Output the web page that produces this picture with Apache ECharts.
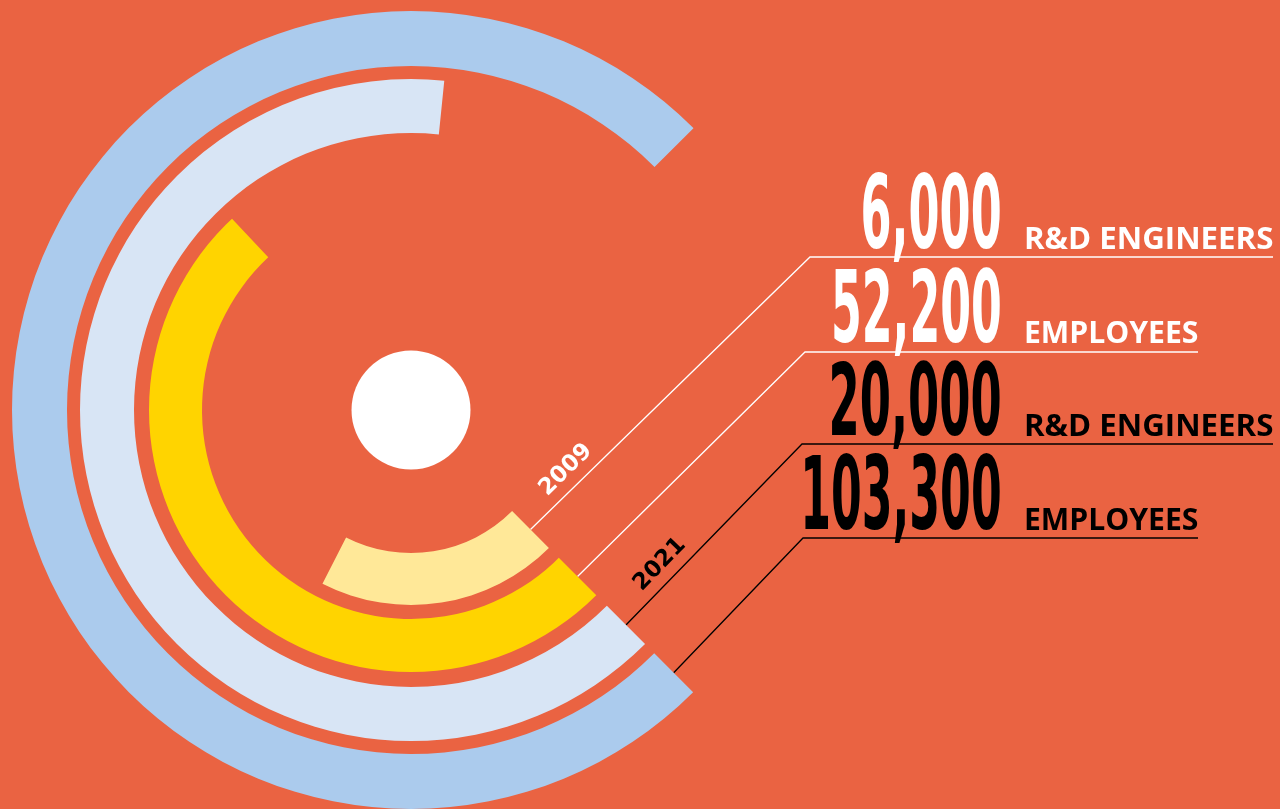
<!DOCTYPE html>
<html>
<head>
<meta charset="utf-8">
<script src="https://cdn.jsdelivr.net/npm/echarts@6/dist/echarts.min.js"></script>
<style>
  html, body { margin: 0; padding: 0; background: #EA6342; }
  #chart { width: 1280px; height: 809px; }
</style>
</head>
<body>
<div id="chart"></div>
<script>
// Workforce figures, one ring each, listed from the innermost ring outwards
const ringYears = ['2009', '2009', '2021', '2021'];
const ringMetrics = ['R&D ENGINEERS', 'EMPLOYEES', 'R&D ENGINEERS', 'EMPLOYEES'];
const ringValues = [6000, 52200, 20000, 103300];

// ---- layout & styling ----
const CX = 411, CY = 410;
const START_ANGLE = -45;
const ringRadii = [[143, 195], [209, 262], [277, 331], [344, 399]];
const ringColors = ['#FFE898', '#FFD400', '#D8E5F5', '#ABCBED'];
// each ring has its own angular scale (full turn = axis max)
const ringAxisMax = [30000, 103300, 31200, 137700];
const yearColors = { '2009': '#FFFFFF', '2021': '#000000' };

// right-hand figure rows (same order as the rings)
const rowBoxes = [
  { numLeft: 863, numTop: 172, base: 249, lineY: 257, kneeX: 810, labelRight: 1273 },
  { numLeft: 834, numTop: 267, base: 343, lineY: 352, kneeX: 805, labelRight: 1198 },
  { numLeft: 832, numTop: 360, base: 436, lineY: 444, kneeX: 802, labelRight: 1273 },
  { numLeft: 805, numTop: 453, base: 530, lineY: 538, kneeX: 803, labelRight: 1198 }
];
const NUM_RIGHT = 1000;
const LABEL_LEFT = 1026;
const LABEL_CAP = 21.5;

const numFamily = '"Liberation Sans Narrow", "DejaVu Sans Condensed", "DejaVu Sans", sans-serif';
const labelFamily = '"Open Sans", "Noto Sans", sans-serif';
const yearFamily = '"DejaVu Sans", "Open Sans", sans-serif';

// text measuring helpers (canvas metrics, 'middle' baseline like zrender uses)
const mctx = document.createElement('canvas').getContext('2d');
function metrics(font, text) {
  mctx.font = font;
  mctx.textBaseline = 'middle';
  mctx.textAlign = 'left';
  return mctx.measureText(text);
}
// fit a text so its ink spans [left,right] horizontally and glyph height of refGlyph spans [top,bottom]
function fittedText(text, family, left, right, top, bottom, refGlyph, color) {
  const probe = metrics('bold 100px ' + family, refGlyph);
  const h100 = probe.actualBoundingBoxAscent + probe.actualBoundingBoxDescent;
  const size = 100 * (bottom - top) / h100;
  const font = 'bold ' + size.toFixed(2) + 'px ' + family;
  const ref = metrics(font, refGlyph);
  const yMid = bottom - ref.actualBoundingBoxDescent;
  const m = metrics(font, text);
  const ink = m.actualBoundingBoxLeft + m.actualBoundingBoxRight;
  const s = (right - left) / ink;
  return {
    type: 'text',
    x: left + m.actualBoundingBoxLeft * s,
    y: yMid,
    scaleX: s,
    silent: true,
    style: { text: text, font: font, fill: color, align: 'left', verticalAlign: 'middle' }
  };
}

function fmt(v) { return v.toLocaleString('en-US'); }

const polar = ringRadii.map(r => ({ center: [CX, CY], radius: r }));
const angleAxis = ringAxisMax.map((mx, i) => ({
  polarIndex: i, type: 'value', min: 0, max: mx,
  startAngle: START_ANGLE, clockwise: true,
  axisLine: { show: false }, axisTick: { show: false },
  axisLabel: { show: false }, splitLine: { show: false }
}));
const radiusAxis = ringMetrics.map((m, i) => ({
  polarIndex: i, type: 'category', data: [ringYears[i] + ' ' + m],
  axisLine: { show: false }, axisTick: { show: false },
  axisLabel: { show: false }, splitLine: { show: false }
}));
const series = ringValues.map((v, i) => ({
  type: 'bar', coordinateSystem: 'polar', polarIndex: i,
  data: [v], barCategoryGap: '0%', silent: true,
  itemStyle: { color: ringColors[i] }
}));

const graphics = [];
// centre disc
graphics.push({ type: 'circle', silent: true, shape: { cx: CX, cy: CY, r: 59.5 }, style: { fill: '#FFFFFF' } });

const c45 = Math.cos(Math.PI / 4);
const yearDone = {};
ringValues.forEach((v, i) => {
  const row = rowBoxes[i];
  const color = yearColors[ringYears[i]];
  const rMid = (ringRadii[i][0] + ringRadii[i][1]) / 2;
  const sx = CX + rMid * c45, sy = CY + rMid * c45;
  // leader from the ring's starting edge to the figure row
  graphics.push({
    type: 'polyline', silent: true,
    shape: { points: [[sx, sy], [row.kneeX, row.lineY], [row.labelRight, row.lineY]] },
    style: { stroke: color, lineWidth: 1.3, fill: null }
  });
  // big figure
  graphics.push(fittedText(fmt(v), numFamily, row.numLeft, NUM_RIGHT, row.numTop, row.base, '0', color));
  // metric label
  graphics.push(fittedText(ringMetrics[i], labelFamily, LABEL_LEFT, row.labelRight, row.base - LABEL_CAP, row.base, 'E', color));
  // year tag along the first leader of each year
  if (!yearDone[ringYears[i]]) {
    yearDone[ringYears[i]] = true;
    const dx = row.kneeX - sx, dy = row.lineY - sy;
    const len = Math.hypot(dx, dy);
    const ux = dx / len, uy = dy / len;      // along the leader
    const nx = uy, ny = -ux;                 // perpendicular, towards upper-left
    const along = 67, off = 18;
    const tx = sx + ux * along + nx * off, ty = sy + uy * along + ny * off;
    const font = 'bold 23px ' + yearFamily;
    const w = metrics(font, ringYears[i]).width;
    graphics.push({
      type: 'text', silent: true,
      x: tx, y: ty, rotation: Math.atan2(-dy, dx), scaleX: 64 / w,
      style: { text: ringYears[i], font: font, fill: color, align: 'center', verticalAlign: 'middle' }
    });
  }
});

const chart = echarts.init(document.getElementById('chart'), null, { renderer: 'canvas' });
chart.setOption({
  backgroundColor: '#EA6342',
  animation: false,
  polar: polar,
  angleAxis: angleAxis,
  radiusAxis: radiusAxis,
  series: series,
  graphic: { elements: graphics }
});
</script>
</body>
</html>
